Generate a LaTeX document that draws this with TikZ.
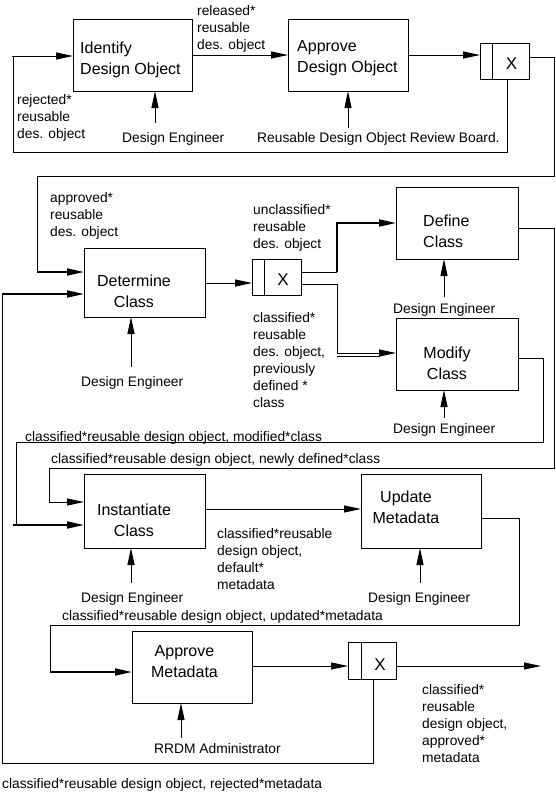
\documentclass[tikz,border=0pt]{standalone}
\usepackage{fontspec}
\setmainfont{Liberation Sans}
\usetikzlibrary{arrows.meta,calc}
\begin{document}
\begin{tikzpicture}[x=1pt,y=-1pt,
  line/.style={line width=1pt},
  thickline/.style={line width=1.8pt},
  flow/.style={line width=1pt,-{Triangle[length=17pt,width=7pt]}},
  flowthick/.style={line width=1.8pt,-{Triangle[length=17pt,width=7pt]}},
  box/.style={draw,line width=1pt,anchor=north west,inner sep=0pt,outer sep=0pt},
  xbox/.style={box,minimum width=49pt,minimum height=36pt},
  lab/.style={inner sep=0pt,anchor=north west,align=left,font=\fontsize{13.8}{17}\selectfont},
  ttl/.style={inner sep=0pt,anchor=north west,align=left,font=\fontsize{16}{21}\selectfont},
  ttlc/.style={inner sep=0pt,anchor=north,align=center,font=\fontsize{16}{21}\selectfont},
  xmark/.style={inner sep=0pt,font=\fontsize{17}{20}\selectfont}
]
\useasboundingbox (0,0) rectangle (556,793);
\fill[white] (0,0) rectangle (556,793);

% ---------- boxes ----------
\node[box,minimum width=119pt,minimum height=72pt] (idf) at (73,19) {};
\node[box,minimum width=120pt,minimum height=72pt] (apr) at (288,19) {};
\node[xbox] (x1) at (480,43) {};
\node[box,minimum width=121pt,minimum height=69pt] (det) at (84,248) {};
\node[xbox] (x2) at (252,259) {};
\node[box,minimum width=122pt,minimum height=72pt] (def) at (396,187) {};
\node[box,minimum width=122pt,minimum height=72pt] (mod) at (396,318) {};
\node[box,minimum width=121pt,minimum height=74pt] (ins) at (84,474) {};
\node[box,minimum width=120pt,minimum height=74pt] (upd) at (361,474) {};
\node[box,minimum width=120pt,minimum height=72pt] (apm) at (132,631) {};
\node[box,minimum width=48pt,minimum height=37pt] (x3) at (348,642) {};

% dividers of the junction boxes
\draw[line] ($(x1.north west)+(12,0)$) -- ($(x1.south west)+(12,0)$);
\draw[line] ($(x2.north west)+(12,0)$) -- ($(x2.south west)+(12,0)$);
\draw[line] ($(x3.north west)+(13,0)$) -- ($(x3.south west)+(13,0)$);
\node[xmark] (x1t) at (511.5,64) {X};
\node[xmark] (x2t) at (283,280) {X};
\node[xmark] (x3t) at (380,665) {X};

% ---------- box titles ----------
\node[ttl] (tidf) at (80,38.8) {\strut Identify\\Design Object};
\node[ttl] (tapr) at (297,36.8) {\strut Approve\\Design Object};
\node[ttlc] (tdet) at (134,271.3) {\strut Determine\\Class};
\node[ttl] (tdef) at (423,212) {\strut Define\\Class};
\node[ttlc] (tmod) at (447,343.3) {\strut Modify\\Class};
\node[ttlc] (tins) at (134,500.3) {\strut Instantiate\\Class};
\node[ttlc] (tupd) at (406,488) {\strut Update\\Metadata};
\node[ttlc] (tapm) at (184.5,642) {\strut Approve\\Metadata};

% ---------- labels ----------
\node[lab] (l1) at (197,3.1) {\strut released*\\reusable\\des. object};
\node[lab] (l2) at (17,92.1) {\strut rejected*\\reusable\\des. object};
\node[lab] (l3) at (122,130.1) {\strut Design Engineer};
\node[lab] (l4) at (257,130.1) {\strut Reusable Design Object Review Board.};
\node[lab] (l5) at (50,190.1) {\strut approved*\\reusable\\des. object};
\node[lab] (l6) at (253,202.1) {\strut unclassified*\\reusable\\des. object};
\node[lab] (l7) at (253,310.1) {\strut classified*\\reusable\\des. object,\\previously\\defined *\\class};
\node[lab] (l8) at (81,374.1) {\strut Design Engineer};
\node[lab] (l9) at (393,301.1) {\strut Design Engineer};
\node[lab] (l10) at (393,421.1) {\strut Design Engineer};
\node[lab] (l11) at (25,429.1) {\strut classified*reusable design object, modified*class};
\node[lab] (l12) at (51,451.1) {\strut classified*reusable design object, newly defined*class};
\node[lab] (l13) at (217,526.1) {\strut classified*reusable\\design object,\\default*\\metadata};
\node[lab] (l14) at (81,590) {\strut Design Engineer};
\node[lab] (l15) at (368,590) {\strut Design Engineer};
\node[lab] (l16) at (62,608.1) {\strut classified*reusable design object, updated*metadata};
\node[lab] (l17) at (422,682.1) {\strut classified*\\reusable\\design object,\\approved*\\metadata};
\node[lab] (l18) at (154,741.1) {\strut RRDM Administrator};
\node[lab] (l19) at (2,776.1) {\strut classified*reusable design object, rejected*metadata};

% ---------- mechanism arrows ----------
\coordinate (m1) at (155,123);
\coordinate (m2) at (348,128);
\coordinate (m3) at (131,367);
\coordinate (m4) at (444,297);
\coordinate (m5) at (444,418);
\coordinate (m6) at (131,583);
\coordinate (m7) at (420,583);
\coordinate (m8) at (181,738);
\draw[flow] (m1) -- (m1 |- idf.south);
\draw[flow] (m2) -- (m2 |- apr.south);
\draw[flow] (m3) -- (m3 |- det.south);
\draw[flow] (m4) -- (m4 |- def.south);
\draw[flow] (m5) -- (m5 |- mod.south);
\draw[flow] (m6) -- (m6 |- ins.south);
\draw[flow] (m7) -- (m7 |- upd.south);
\draw[flow] (m8) -- (m8 |- apm.south);

% ---------- flows ----------
% row 1
\draw[line] (x1.south -| 507,0) |- (13,152) -- (13,56);
\draw[flow] (12,56) -- (idf.west |- 0,56);
\draw[flow] (idf.east) -- (apr.west);
\draw[flow] (apr.east) -- (apr.east -| x1.west);
\coordinate (c1) at (37,272);
\draw[line] (x1.east |- 0,57) -| (554,176) -| (c1);
\draw[flowthick] (c1) -- (c1 -| det.west);

% row 2
\draw[flow] (det.east |- 0,283) -- (x2.west |- 0,283);
\coordinate (c2) at (337,272);
\draw[line] (x2.east |- c2) -- (c2);
\draw[flowthick] (c2) |- (def.west |- 0,223);
\coordinate (c3) at (337,353);
\draw[line] (x2.east |- 0,284) -| (c3);
\draw[flow] (c3) -- (c3 -| mod.west);
\draw[line] (337,356) -- (380,356);

% loops back to Instantiate Class
\coordinate (c4) at (49,502);
\draw[line] (def.east |- 0,228) -| (554,468) -| (c4);
\draw[flow] (c4) -- (c4 -| ins.west);
\coordinate (c5) at (16,525);
\draw[line] (mod.east |- 0,358) -| (543,442) -| (c5);
\draw[flowthick] (13,525) -- (ins.west |- c5);

% row 3
\draw[flow] (ins.east |- 0,509) -- (upd.west |- 0,509);
\coordinate (c6) at (50,672);
\draw[line] (upd.east |- 0,518) -| (519,625) -| (c6);
\draw[flowthick] (c6) -- (c6 -| apm.west);

% row 4
\draw[flow] (apm.east |- 0,666) -- (x3.west |- 0,666);
\coordinate (out) at (541,666);
\draw[flow] (x3.east |- out) -- (out);
\coordinate (c7) at (2,294);
\draw[line] (x3.south -| 373,0) |- (2,763) -- (c7);
\draw[flowthick] (c7) -- (c7 -| det.west);
\end{tikzpicture}
\end{document}
